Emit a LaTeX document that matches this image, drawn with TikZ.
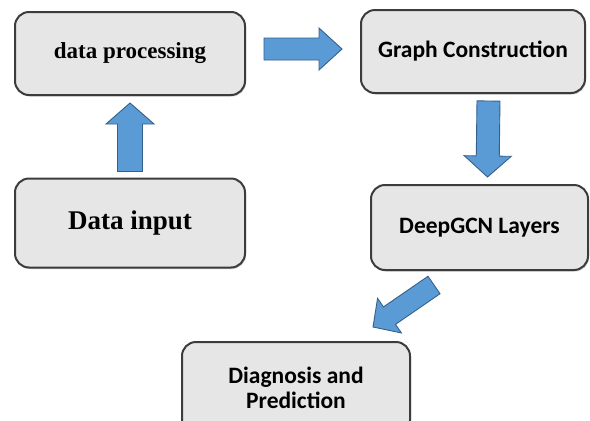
\documentclass[tikz,border=0pt]{standalone}
\usepackage{fontspec}
\newfontfamily\tnrfont{Liberation Serif}
\newfontfamily\carlitofont{Carlito}
\usetikzlibrary{calc,shadows}
\definecolor{boxfill}{HTML}{E6E6E6}
\definecolor{boxedge}{HTML}{3C3C3C}
\definecolor{arrowblue}{HTML}{5B9BD5}
\definecolor{arrowedge}{HTML}{34608C}
\tikzset{
  box/.style={draw=boxedge, line width=2pt, fill=boxfill, rounded corners=14pt,
    align=center, inner sep=0pt,
    drop shadow={shadow xshift=1pt, shadow yshift=-1.5pt, opacity=0.35}},
  serifbox/.style={box, font=\tnrfont\bfseries\fontsize{23}{27}\selectfont},
  sansbox/.style={box, font=\carlitofont\bfseries\fontsize{23.5}{24.5}\selectfont},
  fat/.style n args={3}{draw=arrowedge, fill=arrowblue, line width=0.9pt, line join=miter,
    to path={let \p1=(\tikztostart), \p2=(\tikztotarget),
      \n1={atan2(\y2-\y1,\x2-\x1)}, \n3={veclen(\x2-\x1,\y2-\y1)-#3} in
      ($(\p1)+({\n1+90}:{#1pt})$) --
      ($(\p1)+({\n1}:{\n3})+({\n1+90}:{#1pt})$) --
      ($(\p1)+({\n1}:{\n3})+({\n1+90}:{#2pt})$) --
      (\p2) --
      ($(\p1)+({\n1}:{\n3})+({\n1-90}:{#2pt})$) --
      ($(\p1)+({\n1}:{\n3})+({\n1-90}:{#1pt})$) --
      ($(\p1)+({\n1-90}:{#1pt})$) -- cycle}}
}
\begin{document}
\begin{tikzpicture}[x=1pt,y=-1pt]
\useasboundingbox[fill=white] (0,0) rectangle (590,421);
\begin{scope}
\clip (0,0) rectangle (590,421);
\node[serifbox, minimum width=230pt, minimum height=83pt] (dp) at (130,53.5) {data processing};
\node[serifbox, minimum width=230pt, minimum height=89pt, font=\tnrfont\bfseries\fontsize{27}{30}\selectfont] (di) at (130,223) {Data input};
\node[sansbox, minimum width=224pt, minimum height=83pt] (gc) at (473,51.5) {Graph Construction};
\node[sansbox, minimum width=217pt, minimum height=85pt] (dg) at (479.5,227.5) {DeepGCN Layers};
\node[sansbox, minimum width=228pt, minimum height=92pt] (dx) at (296,388) {Diagnosis and\\Prediction};
\end{scope}
\draw[fat={11}{21}{23}] ($(dp.east)+(18,-4.5)$) to ($(gc.west)+(-18,-2.5)$);
\draw[fat={12.5}{24}{21}] ($(di.north)+(0,-6)$) to ($(dp.south)+(0,7)$);
\draw[fat={11.5}{23.5}{21}] ($(gc.south)+(15.5,7)$) to ($(dg.north)+(8,-7)$);
\draw[fat={10.6}{21}{20}] ($(dg.south)+(-45.5,14)$) to ($(dx.north)+(77,-14)$);
\end{tikzpicture}
\end{document}
